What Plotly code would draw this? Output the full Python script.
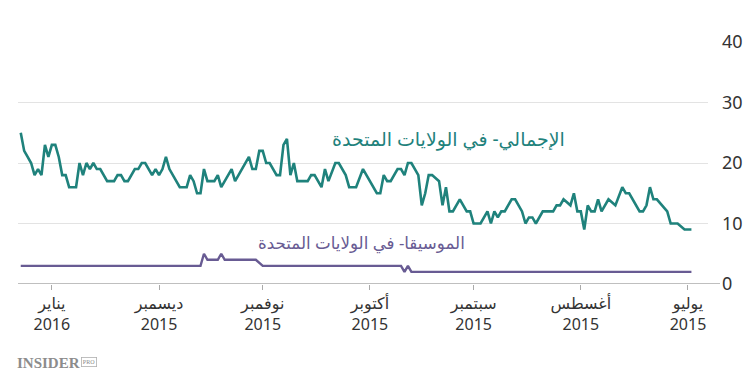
import plotly.graph_objects as go

# ---- data ----
total_dates = [
    "2015-06-30", "2015-07-02", "2015-07-04", "2015-07-06", "2015-07-07", "2015-07-10", "2015-07-11",
    "2015-07-12", "2015-07-13", "2015-07-14", "2015-07-15", "2015-07-18", "2015-07-19", "2015-07-20",
    "2015-07-22", "2015-07-24", "2015-07-26", "2015-07-27", "2015-07-28", "2015-07-29", "2015-07-30",
    "2015-07-31", "2015-08-01", "2015-08-02", "2015-08-03", "2015-08-04", "2015-08-06", "2015-08-07",
    "2015-08-08", "2015-08-09", "2015-08-12", "2015-08-14", "2015-08-15", "2015-08-16", "2015-08-17",
    "2015-08-18", "2015-08-20", "2015-08-21", "2015-08-23", "2015-08-24", "2015-08-25", "2015-08-26",
    "2015-08-27", "2015-08-28", "2015-08-30", "2015-09-01", "2015-09-02", "2015-09-03", "2015-09-05",
    "2015-09-07", "2015-09-08", "2015-09-09", "2015-09-10", "2015-09-11", "2015-09-13", "2015-09-14",
    "2015-09-15", "2015-09-16", "2015-09-17", "2015-09-19", "2015-09-20", "2015-09-21", "2015-09-22",
    "2015-09-23", "2015-09-25", "2015-09-26", "2015-09-27", "2015-09-28", "2015-09-29", "2015-10-03",
    "2015-10-05", "2015-10-07", "2015-10-08", "2015-10-10", "2015-10-11", "2015-10-13", "2015-10-14",
    "2015-10-15", "2015-10-17", "2015-10-18", "2015-10-19", "2015-10-22", "2015-10-23", "2015-10-24",
    "2015-10-25", "2015-10-26", "2015-10-27", "2015-10-28", "2015-10-30", "2015-10-31", "2015-11-01",
    "2015-11-02", "2015-11-03", "2015-11-04", "2015-11-05", "2015-11-09", "2015-11-10", "2015-11-13",
    "2015-11-14", "2015-11-15", "2015-11-17", "2015-11-18", "2015-11-19", "2015-11-20", "2015-11-21",
    "2015-11-22", "2015-11-23", "2015-11-25", "2015-11-28", "2015-11-29", "2015-11-30", "2015-12-01",
    "2015-12-02", "2015-12-03", "2015-12-05", "2015-12-06", "2015-12-07", "2015-12-08", "2015-12-10",
    "2015-12-11", "2015-12-12", "2015-12-13", "2015-12-14", "2015-12-16", "2015-12-18", "2015-12-19",
    "2015-12-20", "2015-12-21", "2015-12-22", "2015-12-23", "2015-12-24", "2015-12-25", "2015-12-27",
    "2015-12-28", "2015-12-29", "2015-12-30", "2015-12-31", "2016-01-01", "2016-01-02", "2016-01-03",
    "2016-01-04", "2016-01-05", "2016-01-06", "2016-01-07", "2016-01-08", "2016-01-09", "2016-01-10",
]
total_values = [
    9, 9, 10, 10, 12, 14, 14,
    16, 13, 12, 12, 15, 15, 16,
    13, 14, 12, 14, 12, 12, 13,
    9, 12, 12, 15, 13, 14, 13,
    13, 12, 12, 10, 11, 11, 10,
    12, 14, 14, 12, 12, 11, 12,
    10, 12, 10, 10, 12, 12, 14,
    12, 12, 16, 13, 17, 18, 18,
    15, 13, 18, 20, 20, 18, 19,
    19, 17, 17, 18, 15, 15, 19,
    16, 16, 18, 20, 20, 17, 19,
    16, 18, 18, 17, 17, 20, 18,
    24, 23, 18, 18, 20, 20, 22,
    22, 19, 19, 21, 17, 19, 16,
    18, 17, 17, 19, 15, 15, 17,
    18, 16, 16, 19, 21, 19, 18,
    19, 18, 20, 20, 19, 19, 17,
    17, 18, 18, 17, 17, 19, 19,
    20, 19, 20, 18, 20, 16, 16,
    18, 18, 21, 23, 23, 21, 23,
    18, 19, 18, 20, 21, 22, 25,
]

music_dates = [
    "2015-06-30", "2015-09-19", "2015-09-20", "2015-09-21", "2015-09-22", "2015-11-01", "2015-11-03",
    "2015-11-12", "2015-11-13", "2015-11-14", "2015-11-17", "2015-11-18", "2015-11-19", "2016-01-10",
]
music_values = [2, 2, 3, 2, 3, 3, 4, 4, 5, 4, 4, 5, 3, 3]

tick_dates = ["2015-07-01", "2015-08-01", "2015-09-01", "2015-10-01", "2015-11-01", "2015-12-01", "2016-01-01"]
tick_months = ["يوليو", "أغسطس", "سبتمبر", "أكتوبر", "نوفمبر", "ديسمبر", "يناير"]
tick_years = ["2015", "2015", "2015", "2015", "2015", "2015", "2016"]
y_ticks = [0, 10, 20, 30, 40]

label_total = "الإجمالي- في الولايات المتحدة"
label_music = "الموسيقا- في الولايات المتحدة"

TEAL = "#1f827c"
PURPLE = "#685b93"
FONT = "Noto Sans, DejaVu Sans, sans-serif"

fig = go.Figure()
fig.add_trace(go.Scatter(x=total_dates, y=total_values, mode="lines",
                         line=dict(color=TEAL, width=2.6), hoverinfo="skip"))
fig.add_trace(go.Scatter(x=music_dates, y=music_values, mode="lines",
                         line=dict(color=PURPLE, width=2.4), hoverinfo="skip"))

fig.update_layout(
    width=750, height=381,
    margin=dict(l=18, r=42, t=42, b=97, autoexpand=False),
    paper_bgcolor="white", plot_bgcolor="white",
    showlegend=False,
    font=dict(family=FONT, color="#333"),
    xaxis=dict(
        type="date",
        range=["2016-01-10 19:00", "2015-06-25 05:00"],
        tickvals=tick_dates,
        ticktext=[m + "<br>" + y for m, y in zip(tick_months, tick_years)],
        ticks="outside", ticklen=5, tickcolor="#aaa", tickwidth=1.2,
        showgrid=False, zeroline=False, showline=False,
        tickfont=dict(size=16, color="#333"),
        automargin=False,
    ),
    yaxis=dict(
        side="right",
        range=[0, 40],
        tickvals=y_ticks,
        showgrid=True, gridcolor="#e3e3e3", gridwidth=1,
        zeroline=False, showline=False,
        ticks="", ticklabelstandoff=13,
        tickfont=dict(size=18, color="#333"),
        automargin=False,
    ),
)

# baseline
fig.add_shape(type="line", xref="paper", yref="y", x0=0, x1=1.0174, y0=0, y1=0,
              line=dict(color="#aaa", width=1.5), layer="above")

# series labels
fig.add_annotation(xref="paper", yref="paper", x=(567 - 18) / 690, y=(284.5 - 139) / 242,
                   text=label_total, showarrow=False, xanchor="right", yanchor="middle",
                   font=dict(size=19, color=TEAL, family=FONT))
fig.add_annotation(xref="paper", yref="paper", x=(467 - 18) / 690, y=(284.5 - 243) / 242,
                   text=label_music, showarrow=False, xanchor="right", yanchor="middle",
                   font=dict(size=16.7, color=PURPLE, family=FONT))

# logo
fig.add_annotation(xref="paper", yref="paper", x=(15 - 18) / 690, y=(284.5 - 363) / 242,
                   text="<b>INSIDER</b>", showarrow=False, xanchor="left", yanchor="middle",
                   font=dict(size=15, color="#8c8c8c", family="Liberation Serif, DejaVu Serif, serif"))
fig.add_annotation(xref="paper", yref="paper", x=(81 - 18) / 690, y=(284.5 - 362) / 242,
                   text="PRO", showarrow=False, xanchor="left", yanchor="middle",
                   font=dict(size=6, color="#8c8c8c", family="Liberation Serif, DejaVu Serif, serif"),
                   bordercolor="#b0b0b0", borderwidth=0.8, borderpad=1)

fig.write_html("out.html", config={"displayModeBar": False},
               post_script="document.body.style.margin='0';")
